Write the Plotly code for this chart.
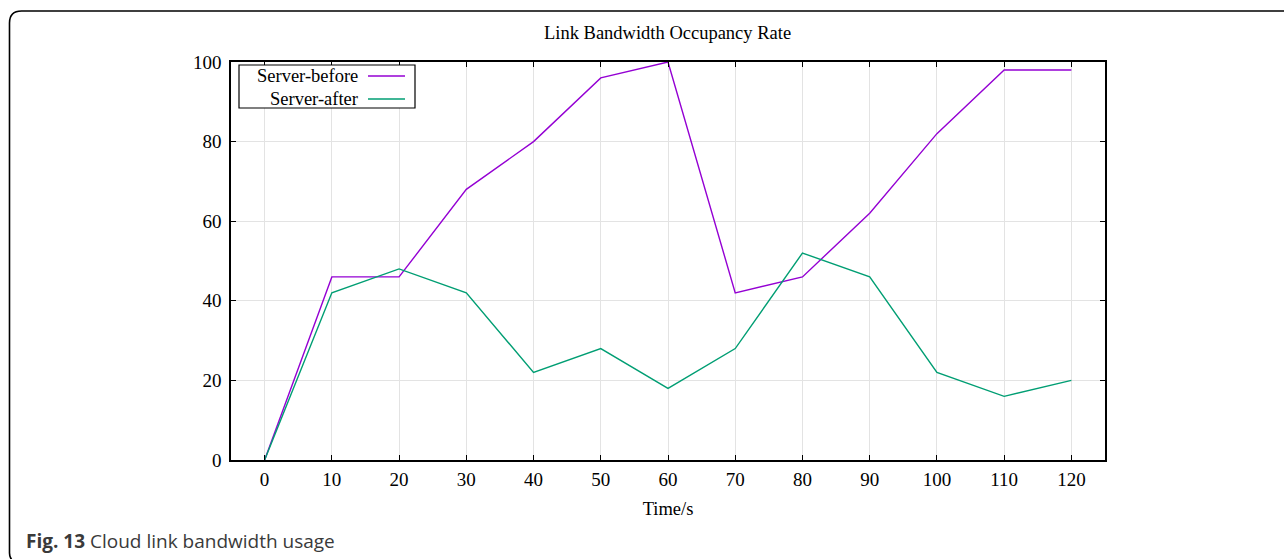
import plotly.graph_objects as go

# Sample times (s) and link occupancy (%) for the two configurations
time_s = [0, 10, 20, 30, 40, 50, 60, 70, 80, 90, 100, 110, 120]
server_before = [0, 46, 46, 68, 80, 96, 100, 42, 46, 62, 82, 98, 98]
server_after = [0, 42, 48, 42, 22, 28, 18, 28, 52, 46, 22, 16, 20]
series_names = ["Server-before", "Server-after"]
series_colors = ["#9400D3", "#009E73"]
x_ticks = [0, 10, 20, 30, 40, 50, 60, 70, 80, 90, 100, 110, 120]
y_ticks = [0, 20, 40, 60, 80, 100]

W, H = 1284, 559
L, R, T, B = 231, 179, 62, 99
PW, PH = W - L - R, H - T - B


def px(x):
    return (x - L) / PW


def py(y):
    return 1 - (y - T) / PH


serif = "Liberation Serif, Times New Roman, serif"

fig = go.Figure()
for vals, name, col in zip([server_before, server_after], series_names, series_colors):
    fig.add_trace(go.Scatter(x=time_s, y=vals, mode="lines", name=name,
                             line=dict(color=col, width=1.4), showlegend=False))

axis_common = dict(showline=True, linecolor="black", linewidth=1.6, mirror="allticks",
                   ticks="inside", ticklen=5, tickcolor="black", tickwidth=1,
                   showgrid=True, gridcolor="#e3e3e3", gridwidth=1, zeroline=False,
                   tickfont=dict(family=serif, size=19, color="black"))

fig.update_xaxes(range=[-5, 125], tickvals=x_ticks, ticklabelstandoff=1, **axis_common,
                 title=dict(text="Time/s", font=dict(family=serif, size=18.5, color="black"),
                            standoff=13))
fig.update_yaxes(range=[0, 100], tickvals=y_ticks, ticklabelstandoff=4, **axis_common)

shapes = []
# rounded outer frame
r = 12
x0, y0 = 9.5, 11
yb = 559
path = (f"M {px(1300)},{py(y0)} L {px(x0 + r)},{py(y0)} "
        f"Q {px(x0)},{py(y0)} {px(x0)},{py(y0 + r)} "
        f"L {px(x0)},{py(yb - 6)} Q {px(x0)},{py(yb)} {px(x0 + 4)},{py(yb + 2)}")
shapes.append(dict(type="path", path=path, xref="paper", yref="paper",
                   line=dict(color="black", width=1.6)))

# legend box with right-aligned labels and sample lines
shapes.append(dict(type="rect", xref="paper", yref="paper",
                   x0=px(239), x1=px(415), y0=py(108), y1=py(65),
                   line=dict(color="black", width=1.2), fillcolor="white", layer="above"))
annotations = []
for i, (name, col) in enumerate(zip(series_names, series_colors)):
    yc = 76 + i * 23
    shapes.append(dict(type="line", xref="paper", yref="paper",
                       x0=px(368), x1=px(405), y0=py(yc), y1=py(yc),
                       line=dict(color=col, width=1.4), layer="above"))
    annotations.append(dict(text=name, xref="paper", yref="paper", x=px(360), y=py(yc),
                            xanchor="right", yanchor="middle", showarrow=False,
                            font=dict(family=serif, size=18.5, color="black")))

annotations.append(dict(text="Link Bandwidth Occupancy Rate", xref="paper", yref="paper",
                        x=px(667), y=py(33), xanchor="center", yanchor="middle",
                        showarrow=False, font=dict(family=serif, size=18.5, color="black")))
annotations.append(dict(text="<b>Fig. 13</b> Cloud link bandwidth usage", xref="paper",
                        yref="paper", x=px(24), y=py(541), xanchor="left", yanchor="middle",
                        showarrow=False,
                        font=dict(family="Open Sans, Noto Sans, sans-serif", size=19,
                                  color="#3a3a3a")))

fig.update_layout(width=W, height=H, margin=dict(l=L, r=R, t=T, b=B),
                  paper_bgcolor="white", plot_bgcolor="white",
                  shapes=shapes, annotations=annotations)

fig.write_html("out.html")
